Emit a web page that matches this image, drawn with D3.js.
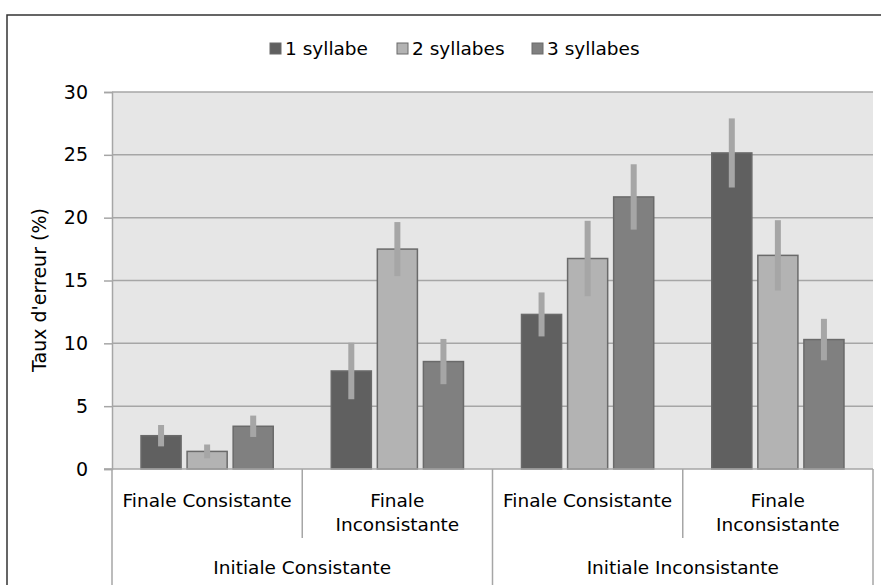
<!DOCTYPE html>
<html>
<head>
<meta charset="utf-8">
<script src="https://cdn.jsdelivr.net/npm/d3@7"></script>
<style>
  body { margin: 0; background: #fff; }
  svg { display: block; font-family: "DejaVu Sans", sans-serif; }
</style>
</head>
<body>
<svg id="chart" width="881" height="585"></svg>
<script>
// data
const series = ['1 syllabe', '2 syllabes', '3 syllabes']
const finales = ['Finale Consistante', 'Finale Inconsistante', 'Finale Consistante', 'Finale Inconsistante']
const initiales = ['Initiale Consistante', 'Initiale Inconsistante']
const syl1 = [2.65, 7.8, 12.3, 25.15]
const syl1Err = [0.85, 2.25, 1.75, 2.75]
const syl2 = [1.4, 17.5, 16.75, 17.0]
const syl2Err = [0.55, 2.15, 3.0, 2.8]
const syl3 = [3.4, 8.55, 21.65, 10.3]
const syl3Err = [0.85, 1.8, 2.6, 1.65]
const yTicks = [0, 5, 10, 15, 20, 25, 30]

const colors = ['#606060', '#b3b3b3', '#808080']
const values = [syl1, syl2, syl3]
const errors = [syl1Err, syl2Err, syl3Err]

const svg = d3.select('#chart')
const plotL = 112, plotR = 873, plotT = 92, plotB = 469

// outer frame (cropped on the right and bottom)
svg.append('rect')
    .attr('x', 7).attr('y', 15)
    .attr('width', 900).attr('height', 600)
    .attr('fill', 'none').attr('stroke', '#333').attr('stroke-width', 1.5)

const slots = d3.range(finales.length)
const x0 = d3.scaleBand().domain(slots).range([plotL, plotR])
const x1 = d3.scaleBand().domain(d3.range(series.length))
    .range([0, x0.bandwidth()]).paddingInner(0.13).paddingOuter(0.63)
const y = d3.scaleLinear().domain([0, 30]).range([plotB, plotT])

svg.append('rect')
    .attr('x', plotL).attr('y', plotT)
    .attr('width', plotR - plotL).attr('height', plotB - plotT)
    .attr('fill', '#e6e6e6')

// grid
svg.append('g').selectAll('line').data(yTicks.filter(d => d > 0)).enter().append('line')
    .attr('x1', plotL).attr('x2', plotR)
    .attr('y1', d => y(d)).attr('y2', d => y(d))
    .attr('stroke', '#a6a6a6').attr('stroke-width', 1.5)

// y axis
const yAxis = svg.append('g')
    .attr('transform', `translate(${plotL},0)`)
    .call(d3.axisLeft(y).tickValues(yTicks).tickSize(8).tickPadding(16))
yAxis.select('.domain').attr('stroke', '#a6a6a6').attr('stroke-width', 1.5)
yAxis.selectAll('.tick line').attr('stroke', '#a6a6a6').attr('stroke-width', 1.5)
yAxis.selectAll('.tick text').attr('font-size', 19).attr('fill', '#000')
    .attr('font-family', '"DejaVu Sans", sans-serif')

svg.append('text')
    .attr('transform', 'translate(46,290) rotate(-90)')
    .attr('text-anchor', 'middle')
    .attr('font-size', 19)
    .text("Taux d'erreur (%)")

// bars
const groups = svg.append('g').selectAll('g').data(slots).enter().append('g')
    .attr('transform', i => `translate(${x0(i)},0)`)

groups.selectAll('rect')
    .data(i => series.map((s, k) => ({ k, v: values[k][i], e: errors[k][i] })))
    .enter().append('rect')
    .attr('x', d => x1(d.k))
    .attr('y', d => y(d.v))
    .attr('width', x1.bandwidth())
    .attr('height', d => y(0) - y(d.v))
    .attr('fill', d => colors[d.k])
    .attr('stroke', '#6a6a6a').attr('stroke-width', 1.5)

groups.selectAll('line.err')
    .data(i => series.map((s, k) => ({ k, v: values[k][i], e: errors[k][i] })))
    .enter().append('line')
    .attr('class', 'err')
    .attr('x1', d => x1(d.k) + x1.bandwidth() / 2)
    .attr('x2', d => x1(d.k) + x1.bandwidth() / 2)
    .attr('y1', d => y(d.v + d.e))
    .attr('y2', d => y(d.v - d.e))
    .attr('stroke', '#a6a6a6').attr('stroke-width', 6)

// category axis
const axisColor = '#a6a6a6'
svg.append('line')
    .attr('x1', plotL - 8).attr('x2', plotR)
    .attr('y1', plotB).attr('y2', plotB)
    .attr('stroke', axisColor).attr('stroke-width', 1.5)

slots.forEach(i => {
    const xs = x0(i)
    const isOuter = i % 2 === 0
    svg.append('line')
        .attr('x1', xs).attr('x2', xs)
        .attr('y1', plotB).attr('y2', isOuter ? 585 : 538)
        .attr('stroke', axisColor).attr('stroke-width', 1.5)
})
svg.append('line')
    .attr('x1', plotR).attr('x2', plotR)
    .attr('y1', plotB).attr('y2', 585)
    .attr('stroke', axisColor).attr('stroke-width', 1.5)

slots.forEach(i => {
    const cx = x0(i) + x0.bandwidth() / 2
    const words = finales[i] === 'Finale Inconsistante' ? ['Finale', 'Inconsistante'] : [finales[i]]
    const t = svg.append('text')
        .attr('text-anchor', 'middle')
        .attr('font-size', 18.5)
    words.forEach((w, j) => {
        t.append('tspan').attr('x', cx).attr('y', 507 + j * 24).text(w)
    })
})

initiales.forEach((label, j) => {
    const cx = x0(j * 2) + x0.bandwidth()
    svg.append('text')
        .attr('x', cx).attr('y', 574)
        .attr('text-anchor', 'middle')
        .attr('font-size', 18.5)
        .text(label)
})

// legend
const legend = svg.append('g').attr('transform', 'translate(270,43)')
const legendX = [0, 127, 262]
series.forEach((s, k) => {
    const g = legend.append('g').attr('transform', `translate(${legendX[k]},0)`)
    g.append('rect')
        .attr('width', 11).attr('height', 11)
        .attr('fill', colors[k]).attr('stroke', '#6a6a6a').attr('stroke-width', 1)
    g.append('text')
        .attr('x', 15).attr('y', 12)
        .attr('font-size', 18.5)
        .text(s)
})
</script>
</body>
</html>
